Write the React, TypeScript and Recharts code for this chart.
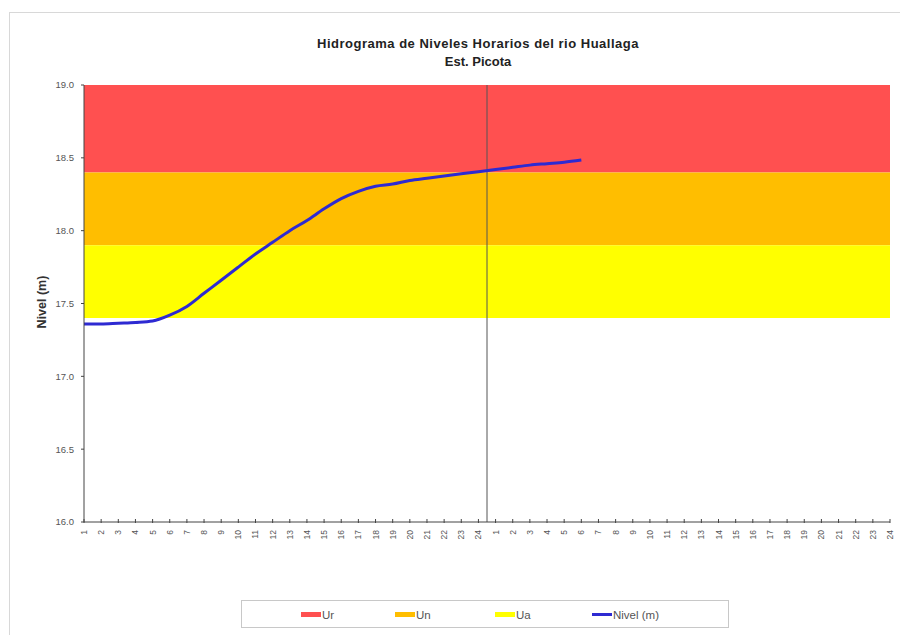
import React from "react"
import { Line, LineChart, ReferenceArea, ReferenceLine, XAxis, YAxis } from "recharts"

// hours of two consecutive days (1..24, 1..24)
const dayHours = ["1", "2", "3", "4", "5", "6", "7", "8", "9", "10", "11", "12", "13", "14", "15", "16", "17", "18", "19", "20", "21", "22", "23", "24"]
const hourLabels = [...dayHours, ...dayHours]

// hourly level readings (m), starting at hour 1 of day 1
const nivel = [
  17.36, 17.36, 17.365, 17.37, 17.38, 17.42, 17.48, 17.57, 17.66, 17.75,
  17.84, 17.92, 18.0, 18.07, 18.15, 18.22, 18.27, 18.305, 18.32, 18.345,
  18.36, 18.375, 18.39, 18.405, 18.42, 18.435, 18.45, 18.46, 18.47, 18.485,
]

// alert thresholds (m)
const umbralUa = 17.4
const umbralUn = 17.9
const umbralUr = 18.4
const yTicks = [16.0, 16.5, 17.0, 17.5, 18.0, 18.5, 19.0]

const data = nivel.map((v, i) => ({ x: i, nivel: v }))
const xTicks = hourLabels.map((_, i) => i)

const colors = { ur: "#ff5050", un: "#ffbe00", ua: "#ffff00", nivel: "#2e2ad2" }

const XTick = (props: any) => {
  const { x, y, payload } = props
  return (
    <g transform={`translate(${x},${y})`}>
      <line x1={0} x2={0} y1={-5} y2={-1} stroke="#444" />
      <text transform="rotate(-90)" x={-6} dy={3} textAnchor="end" fontSize={8.5} fill="#555">
        {hourLabels[payload.value]}
      </text>
    </g>
  )
}

const LegendItem = ({ left, color, label, thin }: { left: number; color: string; label: string; thin?: boolean }) => (
  <div style={{ position: "absolute", left, top: 0, height: 27, display: "flex", alignItems: "center" }}>
    <span style={{ display: "inline-block", width: 20, height: thin ? 3 : 5, background: color }} />
    <span style={{ fontSize: 11.5, color: "#555", marginLeft: 1 }}>{label}</span>
  </div>
)

export default function App() {
  return (
    <div style={{ position: "relative", width: 900, height: 627, fontFamily: "'Liberation Sans', Arial, sans-serif" }}>
      <div style={{ position: "absolute", left: 1, top: 4, width: 910, height: 640, border: "1px solid #d8d8d8" }} />
      <div style={{ position: "absolute", left: 0, width: 940, top: 27, textAlign: "center", fontSize: 13, fontWeight: "bold", color: "#222", lineHeight: "18px" }}>
        <span style={{ letterSpacing: 0.5 }}>Hidrograma de Niveles Horarios del rio Huallaga</span>
        <br />
        Est. Picota
      </div>
      <div style={{ position: "absolute", left: 34, top: 294, width: 0, height: 0 }}>
        <div style={{ transform: "translate(-50%, -50%) rotate(-90deg)", whiteSpace: "nowrap", fontSize: 12.5, lineHeight: "14px", fontWeight: "bold", color: "#333", position: "absolute" }}>
          Nivel (m)
        </div>
      </div>
      <div style={{ position: "absolute", left: 0, top: 0 }}>
        <LineChart width={900} height={620} data={data} margin={{ top: 77, right: 18, bottom: 76, left: 36 }}>
          <XAxis
            dataKey="x"
            type="number"
            domain={[0, hourLabels.length - 1]}
            ticks={xTicks}
            interval={0}
            tick={<XTick />}
            tickSize={0}
            tickMargin={2}
            height={30}
            stroke="#444"
            allowDataOverflow
          />
          <YAxis
            type="number"
            domain={[16, 19]}
            ticks={yTicks}
            tickFormatter={(v: number) => v.toFixed(1)}
            tick={{ fontSize: 9.5, fill: "#555" }}
            tickSize={3}
            tickMargin={7}
            width={40}
            stroke="#444"
            allowDataOverflow
          />
          <ReferenceArea y1={umbralUr} y2={19} fill={colors.ur} fillOpacity={1} ifOverflow="hidden" />
          <ReferenceArea y1={umbralUn} y2={umbralUr} fill={colors.un} fillOpacity={1} ifOverflow="hidden" />
          <ReferenceArea y1={umbralUa} y2={umbralUn} fill={colors.ua} fillOpacity={1} ifOverflow="hidden" />
          <ReferenceLine x={23.5} stroke="#555" strokeWidth={1} />
          <Line type="monotone" dataKey="nivel" stroke={colors.nivel} strokeWidth={3} dot={false} isAnimationActive={false} />
        </LineChart>
      </div>
      <div style={{ position: "absolute", left: 233, top: 592, width: 486, height: 26, border: "1px solid #c8c8c8" }}>
        <LegendItem left={59} color={colors.ur} label="Ur" />
        <LegendItem left={153} color={colors.un} label="Un" />
        <LegendItem left={253} color={colors.ua} label="Ua" />
        <LegendItem left={350} color={colors.nivel} label="Nivel (m)" thin />
      </div>
    </div>
  )
}
